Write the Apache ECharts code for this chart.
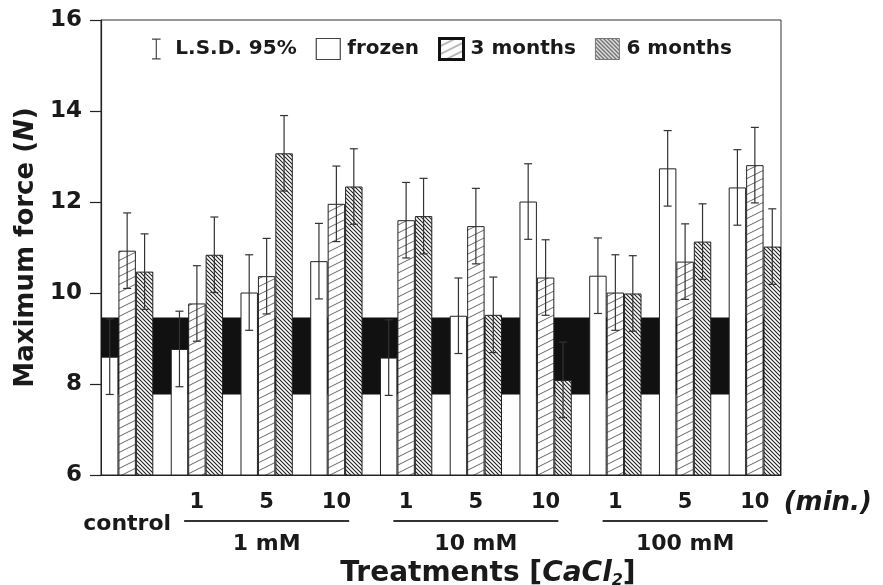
<!DOCTYPE html>
<html><head><meta charset="utf-8">
<script src="https://cdn.jsdelivr.net/npm/echarts@6/dist/echarts.min.js"></script>
<style>html,body{margin:0;padding:0;background:#fff}#c{width:883px;height:585px}</style>
</head><body><div id="c"></div>
<script>
// ---- data ----
const timeLabels = ['', '1', '5', '10', '1', '5', '10', '1', '5', '10'];
const timeUnit = '(min.)';
const controlLabel = 'control';
const concLabels = ['1 mM', '10 mM', '100 mM'];
const concMidGroup = [2, 5, 8];
const frozen  = [8.60, 8.77, 10.01, 10.70, 8.58, 9.50, 12.01, 10.38, 12.74, 12.32];
const months3 = [10.93, 9.77, 10.37, 11.96, 11.60, 11.47, 10.34, 10.01, 10.69, 12.81];
const months6 = [10.47, 10.84, 13.07, 12.34, 11.69, 9.52, 8.09, 9.99, 11.13, 11.02];
const lsd95 = 1.66;
const band = [7.77, 9.46];
const yTicks = [6, 8, 10, 12, 14, 16];

// ---- layout helpers ----
const FONT = 'DejaVu Sans';
const TXT = '#1a1a1a';
const nGroups = frozen.length;
const nSlots = nGroups * 4 - 1;
const slots = Array.from({length: nSlots}, (_, i) => 's' + i);
function slotData(arr, k) {
  const d = new Array(nSlots).fill('-');
  arr.forEach((v, g) => { d[g * 4 + k] = v; });
  return d;
}
const errData = [];
[frozen, months3, months6].forEach((arr, k) => arr.forEach((v, g) => errData.push([g * 4 + k, v])));
const concMidSlots = concMidGroup.map(g => g * 4 + 1);

function makePattern(w, h, lw, color, draw) {
  const c = document.createElement('canvas');
  c.width = w; c.height = h;
  const ctx = c.getContext('2d');
  ctx.fillStyle = '#fff'; ctx.fillRect(0, 0, w, h);
  ctx.strokeStyle = color; ctx.lineWidth = lw;
  for (let dx = -w; dx <= w; dx += w) for (let dy = -h; dy <= h; dy += h) {
    ctx.beginPath(); draw(ctx, dx, dy); ctx.stroke();
  }
  return { image: c, repeat: 'repeat' };
}
const pat3 = makePattern(16, 8, 0.9, '#555', (ctx, dx, dy) => { ctx.moveTo(dx, 8 + dy); ctx.lineTo(16 + dx, dy); });
const pat6 = makePattern(4, 4, 1.1, '#222', (ctx, dx, dy) => { ctx.moveTo(dx, dy); ctx.lineTo(4 + dx, 4 + dy); });

const bold = (size, extra) => Object.assign({fontFamily: FONT, fontWeight: 'bold', fontSize: size, color: TXT}, extra || {});

const chart = echarts.init(document.getElementById('c'));
chart.setOption({
  animation: false,
  backgroundColor: '#fff',
  grid: { left: 101, right: 102, top: 20, bottom: 110, show: true, borderColor: '#333', borderWidth: 1,
          containLabel: false, outerBoundsMode: 'none' },
  legend: {
    left: 147, top: 32, itemWidth: 24, itemHeight: 21, itemGap: 19,
    textStyle: bold(20, {padding: [0, 0, 0, 2]}),
    data: [
      { name: 'L.S.D. 95%', icon: 'path://M0,0H9V1.2H5.1V20.8H9V22H0V20.8H3.9V1.2H0Z' },
      { name: 'frozen', icon: 'rect', itemStyle: { borderWidth: 1.2, borderColor: '#444' } },
      { name: '3 months', icon: 'rect', itemStyle: { borderWidth: 3, borderColor: '#111' } },
      { name: '6 months', icon: 'rect', itemStyle: { borderWidth: 1, borderColor: '#777' } }
    ]
  },
  xAxis: [
    {
      type: 'category', data: slots, position: 'bottom',
      axisLine: { lineStyle: { color: '#222', width: 1.2 } },
      axisTick: { show: false },
      axisLabel: { interval: 0, margin: 17, ...bold(21),
        formatter: (v, i) => (i === nSlots - 1 ? '{m|' + timeUnit + '}' : (i % 4 === 1 ? timeLabels[(i - 1) / 4] : '')),
        rich: { m: bold(26, { fontStyle: 'italic', lineHeight: 22, padding: [0, 0, 0, 111] }) } }
    },
    {
      type: 'category', data: slots, position: 'bottom',
      axisLine: { show: false }, axisTick: { show: false },
      axisLabel: { interval: 0, margin: 45,
        formatter: (v, i) => { const k = concMidSlots.indexOf(i); return k < 0 ? '' : '{ln| }\n{t|' + concLabels[k] + '}'; },
        rich: {
          ln: { width: 165, height: 2, lineHeight: 2, fontSize: 1, backgroundColor: '#333' },
          t: bold(22, { lineHeight: 44 })
        } }
    },
    {
      type: 'category', data: slots, position: 'bottom',
      axisLine: { show: false }, axisTick: { show: false },
      axisLabel: { interval: 0, margin: 36, ...bold(22, { lineHeight: 26 }),
        formatter: (v, i) => (i === 1 ? controlLabel : '') },
      name: '{a|Treatments [}{i|CaCl}{s|2}{a|]}', nameLocation: 'middle', nameGap: 83,
      nameTextStyle: {
        padding: [0, 0, 0, 94],
        rich: {
          a: bold(28, { lineHeight: 32 }),
          i: bold(28, { fontStyle: 'italic', lineHeight: 32 }),
          s: bold(16, { fontStyle: 'italic', padding: [14, 0, 0, 0] })
        }
      }
    }
  ],
  yAxis: {
    type: 'value', min: yTicks[0], max: yTicks[yTicks.length - 1], interval: 2,
    splitLine: { show: false },
    axisLine: { show: true, lineStyle: { color: '#222', width: 1.2 } },
    axisTick: { show: true, inside: false, length: 11, lineStyle: { color: '#222', width: 1.2 } },
    axisLabel: { margin: 19, ...bold(23) },
    name: '{a|Maximum force (}{i|N}{a|)}', nameLocation: 'middle', nameGap: 62,
    nameTextStyle: { rich: { a: bold(26), i: bold(26, { fontStyle: 'italic' }) } }
  },
  series: [
    {
      name: 'frozen', type: 'bar', data: slotData(frozen, 0), barGap: '-100%', barCategoryGap: 0, z: 2,
      itemStyle: { color: '#fff', borderColor: '#222', borderWidth: 1 },
      markArea: { silent: true, z: 1, itemStyle: { color: '#111', opacity: 1 },
        data: [[{ yAxis: band[0] }, { yAxis: band[1] }]] }
    },
    {
      name: '3 months', type: 'bar', data: slotData(months3, 1), barGap: '-100%', barCategoryGap: 0, z: 2,
      itemStyle: { color: pat3, borderColor: '#222', borderWidth: 1 }
    },
    {
      name: '6 months', type: 'bar', data: slotData(months6, 2), barGap: '-100%', barCategoryGap: 0, z: 2,
      itemStyle: { color: pat6, borderColor: '#222', borderWidth: 1 }
    },
    {
      name: 'L.S.D. 95%', type: 'custom', z: 5, data: errData,
      itemStyle: { color: '#444' },
      renderItem: (params, api) => {
        const i = api.value(0), v = api.value(1);
        const t = api.coord([i, v + lsd95 / 2]);
        const b = api.coord([i, v - lsd95 / 2]);
        const cw = 4, st = { stroke: '#333', lineWidth: 1.2 };
        return { type: 'group', children: [
          { type: 'line', shape: { x1: t[0], y1: t[1], x2: b[0], y2: b[1] }, style: st },
          { type: 'line', shape: { x1: t[0] - cw, y1: t[1], x2: t[0] + cw, y2: t[1] }, style: st },
          { type: 'line', shape: { x1: b[0] - cw, y1: b[1], x2: b[0] + cw, y2: b[1] }, style: st }
        ] };
      }
    }
  ]
});
</script></body></html>
